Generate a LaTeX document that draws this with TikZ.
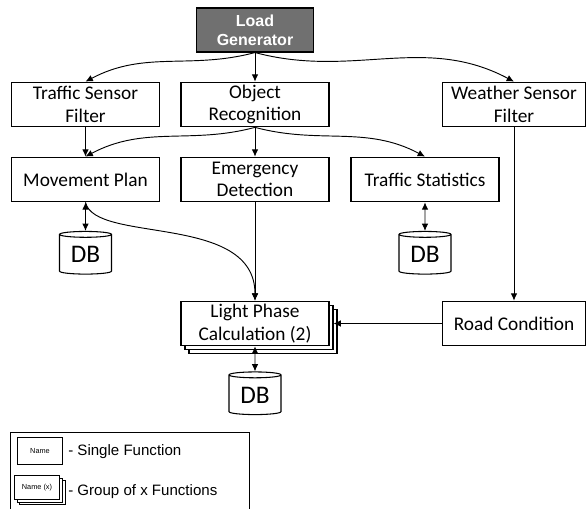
\documentclass[tikz,border=0pt]{standalone}
\usepackage{fontspec}
\setmainfont{Carlito}
\newfontfamily\arialfont{Liberation Sans}
\usetikzlibrary{positioning,arrows.meta,calc,shapes,shadows}
\tikzset{
    >={Latex[length=5.5pt,width=5pt]},
    function/.style = {
        draw,
        shape=rectangle,
        fill=white,
        minimum height=33.5pt,
        minimum width=111pt,
        align=center,
        inner sep=1pt,
        font=\fontsize{14.5}{17}\selectfont,
        line width=0.8pt
    },
    group/.style = {
        function,
        double copy shadow={shadow xshift=3pt, shadow yshift=-3pt}
    },
    generator/.style = {
        draw,
        shape=rectangle,
        fill=black!56,
        text=white,
        minimum height=33pt,
        minimum width=88pt,
        align=center,
        font=\arialfont\bfseries\fontsize{12}{14.5}\selectfont,
        line width=0.8pt
    },
    database/.style = {
        draw,
        shape=cylinder,
        shape border rotate=90,
        aspect=0.2,
        minimum height=32pt,
        minimum width=39pt,
        inner sep=0pt,
        font=\fontsize{19}{20}\selectfont,
        line width=0.8pt
    },
    legendbox/.style = {
        draw,
        shape=rectangle,
        fill=white,
        minimum height=20pt,
        minimum width=34pt,
        inner sep=1pt,
        font=\arialfont\fontsize{5.5}{6}\selectfont,
        line width=0.6pt
    },
    legendtext/.style = {
        anchor=west,
        inner sep=0pt,
        font=\arialfont\fontsize{11.3}{12}\selectfont
    },
    link/.style = {line width=0.7pt},
}

\begin{document}
\begin{tikzpicture}[x=0.75pt, y=0.75pt]
            \useasboundingbox (0,0) rectangle (586,-509);
            \clip (0,0) rectangle (586,-509);

            \node[generator] (loadgen) at (255,-30) {Load\\Generator};

            \node[function] (tsfilter) at (85.5,-104.5) {Traffic Sensor\\Filter};
            \node[function] (objrec) at (255,-104.5) {Object\\Recognition};
            \node[function, minimum width=107pt] (wsfilter) at (514,-104.5) {Weather Sensor\\Filter};

            \node[function] (movplan) at (85.5,-179.5) {Movement Plan};
            \node[function] (emergency) at (255,-179.5) {Emergency\\Detection};
            \node[function] (trafstat) at (425,-179.5) {Traffic Statistics};

            \node[database] (dbmov) at (85.5,-254.5) {DB};
            \node[database] (dbstat) at (425,-254.5) {DB};

            \node[group] (lightphase) at (255,-323.5) {Light Phase\\Calculation (2)};
            \node[function, minimum width=107pt] (roadcond) at (514,-323.5) {Road Condition};

            \node[database] (dblight) at (255,-395) {DB};

            % load generator fan out
            \path[draw, link, ->] (loadgen.south) to[out=195, in=28] (tsfilter.north);
            \path[draw, link, ->] (loadgen.south) -- (objrec.north);
            \path[draw, link, ->] (loadgen.south) to[out=-15, in=152] (wsfilter.north);

            % second row
            \path[draw, link, ->] (tsfilter.south) -- (movplan.north);
            \path[draw, link, ->] (objrec.south) to[out=195, in=28] (movplan.north);
            \path[draw, link, ->] (objrec.south) -- (emergency.north);
            \path[draw, link, ->] (objrec.south) to[out=-15, in=152] (trafstat.north);
            \path[draw, link, ->] (wsfilter.south) -- (roadcond.north);

            % databases
            \path[draw, link, <->] (movplan.south) -- (dbmov.north);
            \path[draw, link, <->] (trafstat.south) -- (dbstat.north);
            \path[draw, link, <->] (lightphase.south) -- (dblight.north);

            % into light phase calculation
            \path[draw, link, ->] (movplan.south) to[out=-77, in=90, out distance=32pt, in distance=66pt] (lightphase.north);
            \path[draw, link, ->] (emergency.south) -- (lightphase.north);
            \path[draw, link, ->] (roadcond.west) -- ($(lightphase.east)+(4,0)$);

            % legend
            \draw[line width=0.6pt] (10,-432) rectangle (249,-520);
            \node[legendbox] (single) at (40,-451) {Name};
            \node[legendbox, minimum height=18pt, double copy shadow={shadow xshift=2pt, shadow yshift=-2pt}] (multi) at (37,-487.5) {Name (x)};
            \node[legendtext] (singletext) at (68,-452) {- Single Function};
            \node[legendtext] (multitext) at (68,-492) {- Group of x Functions};
        \end{tikzpicture}
\end{document}
